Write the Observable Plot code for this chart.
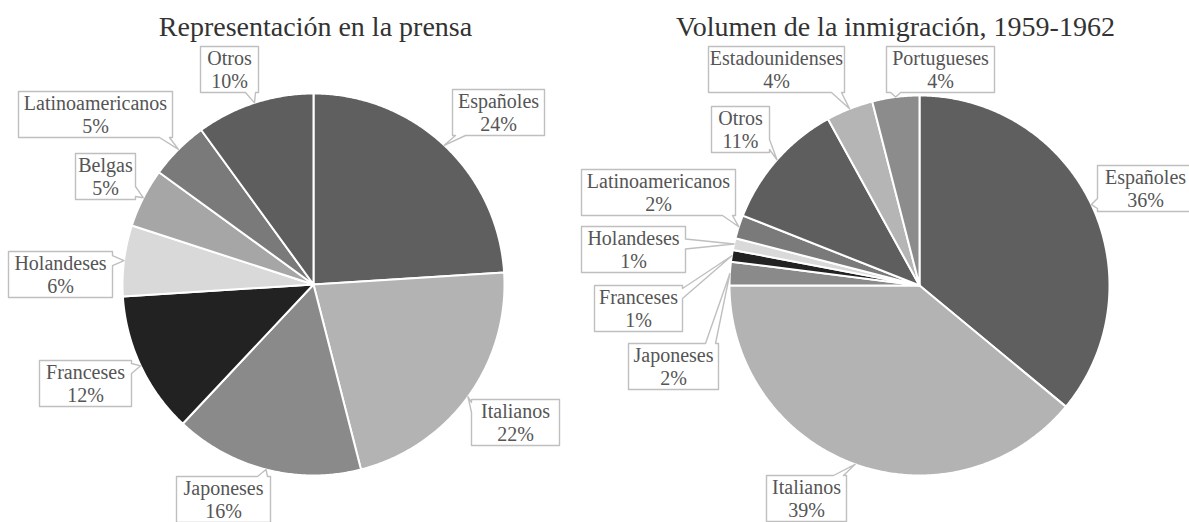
<!DOCTYPE html>
<html><head><meta charset="utf-8">
<script src="https://cdn.jsdelivr.net/npm/d3@7"></script>
<script src="https://cdn.jsdelivr.net/npm/@observablehq/plot@0.6"></script>
<style>body{margin:0;background:#fff} svg{display:block}</style>
</head><body><div id="chart"></div>
<script>
// ---- data ----
const categories = ["Españoles","Italianos","Japoneses","Franceses","Holandeses","Belgas","Latinoamericanos","Otros","Estadounidenses","Portugueses"];
const categoryColors = ["#5f5f5f","#b3b3b3","#8a8a8a","#222222","#d9d9d9","#a6a6a6","#7a7a7a","#5e5e5e","#b5b5b5","#8c8c8c"];

const pressCategories = ["Españoles","Italianos","Japoneses","Franceses","Holandeses","Belgas","Latinoamericanos","Otros"];
const pressValues = [24,22,16,12,6,5,5,10];

const immCategories = ["Españoles","Italianos","Japoneses","Franceses","Holandeses","Latinoamericanos","Otros","Estadounidenses","Portugueses"];
const immValues = [36,39,2,1,1,2,11,4,4];

const titles = ["Representación en la prensa","Volumen de la inmigración, 1959-1962"];

// ---- layout ----
const W = 1189, H = 522;
const pieGeo = [
  {cx: 313, cy: 284, r: 191, titleX: 315, titleY: 27},
  {cx: 919, cy: 285, r: 190, titleX: 895, titleY: 27}
];
// callout boxes: [centerX, centerY, width]
const pressBoxes = [[498,112,92],[515,422,88],[223,499,94],[85,383,92],[60,274,104],[105,176,60],[95,114,154],[229,69,58]];
const immBoxes = [[1145,188,96],[806,498,80],[673,366,90],[638,308,88],[633,249,104],[658,192,154],[740,129,58],[776,69,136],[940,69,108]];
const BOX_H = 46, TAIL_HW = 5;

const slices = [], callouts = [], labels = [];

function buildPie(cats, vals, geo, boxes, pid) {
  const arcs = d3.pie().sort(null).value(d => d)(vals);
  const pt = ang => [geo.cx + geo.r * Math.sin(ang), geo.cy - geo.r * Math.cos(ang)];
  arcs.forEach((a, i) => {
    const id = pid + "-" + i;
    slices.push({id, cat: cats[i], x: geo.cx, y: geo.cy});
    const n = Math.max(2, Math.ceil((a.endAngle - a.startAngle) / (Math.PI / 360)));
    for (let k = 0; k <= n; k++) {
      const [x, y] = pt(a.startAngle + (a.endAngle - a.startAngle) * k / n);
      slices.push({id, cat: cats[i], x, y});
    }
    // callout outline with tail toward the slice's mid-angle edge point
    const [tx, ty] = pt((a.startAngle + a.endAngle) / 2);
    const [bx, by, bw] = boxes[i];
    const x0 = bx - bw / 2, x1 = bx + bw / 2, y0 = by - BOX_H / 2, y1 = by + BOX_H / 2;
    const d = {top: y0 - ty, right: tx - x1, bottom: ty - y1, left: x0 - tx};
    const side = Object.keys(d).reduce((p, q) => d[q] > d[p] ? q : p);
    const clamp = (v, lo, hi) => Math.max(lo, Math.min(hi, v));
    const pts = [];
    pts.push([x0, y0]);
    if (side === "top") { const c = clamp(tx, x0 + TAIL_HW + 3, x1 - TAIL_HW - 3); pts.push([c - TAIL_HW, y0], [tx, ty], [c + TAIL_HW, y0]); }
    pts.push([x1, y0]);
    if (side === "right") { const c = clamp(ty, y0 + TAIL_HW + 3, y1 - TAIL_HW - 3); pts.push([x1, c - TAIL_HW], [tx, ty], [x1, c + TAIL_HW]); }
    pts.push([x1, y1]);
    if (side === "bottom") { const c = clamp(tx, x0 + TAIL_HW + 3, x1 - TAIL_HW - 3); pts.push([c + TAIL_HW, y1], [tx, ty], [c - TAIL_HW, y1]); }
    pts.push([x0, y1]);
    if (side === "left") { const c = clamp(ty, y0 + TAIL_HW + 3, y1 - TAIL_HW - 3); pts.push([x0, c + TAIL_HW], [tx, ty], [x0, c - TAIL_HW]); }
    pts.forEach(([x, y]) => callouts.push({id, x, y}));
    labels.push({x: bx, y: by, text: cats[i] + "\n" + vals[i] + "%"});
  });
}
buildPie(pressCategories, pressValues, pieGeo[0], pressBoxes, "p");
buildPie(immCategories, immValues, pieGeo[1], immBoxes, "i");

const titleData = titles.map((t, i) => ({x: pieGeo[i].titleX, y: pieGeo[i].titleY, text: t}));

const serif = "'Liberation Serif', 'Times New Roman', serif";
const chart = Plot.plot({
  width: W, height: H, margin: 0,
  x: {domain: [0, W], range: [0, W], axis: null},
  y: {domain: [0, H], range: [0, H], axis: null},
  color: {domain: categories, range: categoryColors},
  marks: [
    Plot.line(slices, {x: "x", y: "y", z: "id", fill: "cat", stroke: "white", strokeWidth: 2, strokeLinejoin: "round", curve: "linear-closed"}),
    Plot.line(callouts, {x: "x", y: "y", z: "id", fill: "white", stroke: "#bfbfbf", strokeWidth: 1.4, curve: "linear-closed"}),
    Plot.text(labels, {x: "x", y: "y", text: "text", fontFamily: serif, fontSize: 20, fill: "#555555", lineHeight: 1.13}),
    Plot.text(titleData, {x: "x", y: "y", text: "text", fontFamily: serif, fontSize: 28, fill: "#333333"})
  ]
});
document.getElementById("chart").append(chart);
</script>
</body></html>
